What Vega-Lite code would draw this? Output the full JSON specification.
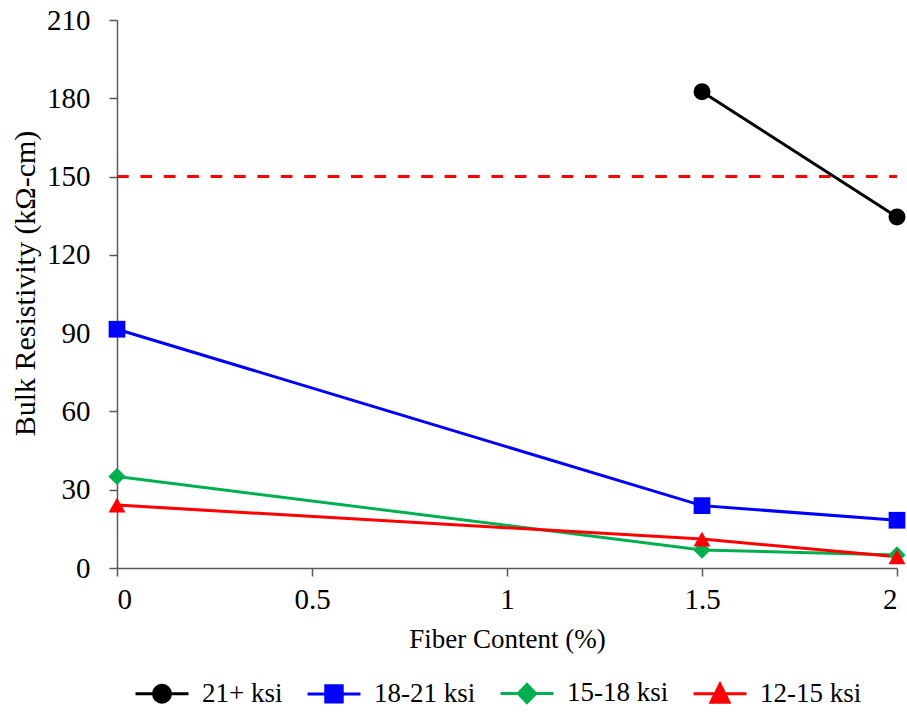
{
  "$schema": "https://vega.github.io/schema/vega-lite/v6.json",
  "width": 780,
  "height": 548,
  "autosize": "none",
  "padding": {"left": 117, "top": 20, "right": 10, "bottom": 145},
  "background": "white",
  "config": {
    "view": {"stroke": null},
    "font": "Liberation Serif",
    "axis": {
      "grid": false,
      "domainColor": "#595959",
      "tickColor": "#595959",
      "domainWidth": 1.5,
      "tickWidth": 1.5,
      "tickSize": 8,
      "labelFont": "Liberation Serif",
      "titleFont": "Liberation Serif",
      "labelFontSize": 29,
      "titleFontSize": 27,
      "labelColor": "black",
      "titleColor": "black",
      "titleFontWeight": "normal"
    }
  },
  "data": {
    "values": [
      {"fiber": 1.5, "resistivity": 182.5, "series": "21+ ksi"},
      {"fiber": 2, "resistivity": 134.5, "series": "21+ ksi"},
      {"fiber": 0, "resistivity": 91.5, "series": "18-21 ksi"},
      {"fiber": 1.5, "resistivity": 23.9, "series": "18-21 ksi"},
      {"fiber": 2, "resistivity": 18.3, "series": "18-21 ksi"},
      {"fiber": 0, "resistivity": 35.1, "series": "15-18 ksi"},
      {"fiber": 1.5, "resistivity": 6.9, "series": "15-18 ksi"},
      {"fiber": 2, "resistivity": 5.0, "series": "15-18 ksi"},
      {"fiber": 0, "resistivity": 24.1, "series": "12-15 ksi"},
      {"fiber": 1.5, "resistivity": 11.1, "series": "12-15 ksi"},
      {"fiber": 2, "resistivity": 4.3, "series": "12-15 ksi"}
    ]
  },
  "encoding": {
    "x": {
      "field": "fiber",
      "type": "quantitative",
      "scale": {"domain": [0, 2], "nice": false, "zero": false},
      "axis": {"values": [0, 0.5, 1, 1.5, 2], "format": "~g", "title": "Fiber Content (%)", "labelPadding": 9, "titlePadding": 12}
    },
    "y": {
      "field": "resistivity",
      "type": "quantitative",
      "scale": {"domain": [0, 210], "nice": false},
      "axis": {"values": [0, 30, 60, 90, 120, 150, 180, 210], "title": "Bulk Resistivity (kΩ-cm)", "titleFontSize": 30, "titleY": 263, "labelPadding": 19, "titlePadding": 6}
    },
    "color": {
      "field": "series",
      "type": "nominal",
      "scale": {"domain": ["21+ ksi", "18-21 ksi", "15-18 ksi", "12-15 ksi"], "range": ["#000000", "#0000FF", "#00B050", "#FF0000"]},
      "legend": {
        "orient": "none",
        "legendX": 17,
        "legendY": 645,
        "direction": "horizontal",
        "title": null,
        "padding": 0,
        "labelFont": "Liberation Serif",
        "labelFontSize": 27,
        "labelColor": "black",
        "labelLimit": 300,
        "symbolSize": 2809,
        "symbolStrokeWidth": 3,
        "columnPadding": 18,
        "labelOffset": 12,
        "encode": {
          "symbols": {
            "update": {
              "shape": {"signal": "datum.value === '21+ ksi' ? 'M-1,0H1M-0.32,0A0.32,0.32 0 1,0 0.32,0A0.32,0.32 0 1,0 -0.32,0Z' : datum.value === '18-21 ksi' ? 'M-1,0H1M-0.31,-0.31H0.31V0.31H-0.31Z' : datum.value === '15-18 ksi' ? 'M-1,0H1M0,-0.34L0.33,0L0,0.34L-0.33,0Z' : 'M-1,0H1M0,-0.36L0.34,0.32H-0.34Z'"},
              "fill": {"scale": "color", "field": "value"},
              "stroke": {"scale": "color", "field": "value"},
              "strokeWidth": {"value": 3},
              "size": {"value": 2809},
              "opacity": {"value": 1}
            }
          }
        }
      }
    }
  },
  "layer": [
    {
      "data": {"values": [{"fiber": 0, "resistivity": 150}, {"fiber": 2, "resistivity": 150}]},
      "mark": {"type": "line", "strokeWidth": 3, "strokeDash": [11.7, 11.7]},
      "encoding": {"color": {"value": "#FF0000"}}
    },
    {
      "mark": {"type": "line", "strokeWidth": 3}
    },
    {
      "transform": [{"filter": "datum.series === '21+ ksi'"}],
      "mark": {"type": "point", "filled": true, "opacity": 1, "size": 289, "shape": "circle"}
    },
    {
      "transform": [{"filter": "datum.series === '18-21 ksi'"}],
      "mark": {"type": "point", "filled": true, "opacity": 1, "size": 280, "shape": "square"}
    },
    {
      "transform": [{"filter": "datum.series === '15-18 ksi'"}],
      "mark": {"type": "point", "filled": true, "opacity": 1, "size": 300, "shape": "diamond"}
    },
    {
      "transform": [{"filter": "datum.series === '12-15 ksi'"}],
      "mark": {"type": "point", "filled": true, "opacity": 1, "size": 289, "shape": "triangle-up"}
    }
  ]
}
